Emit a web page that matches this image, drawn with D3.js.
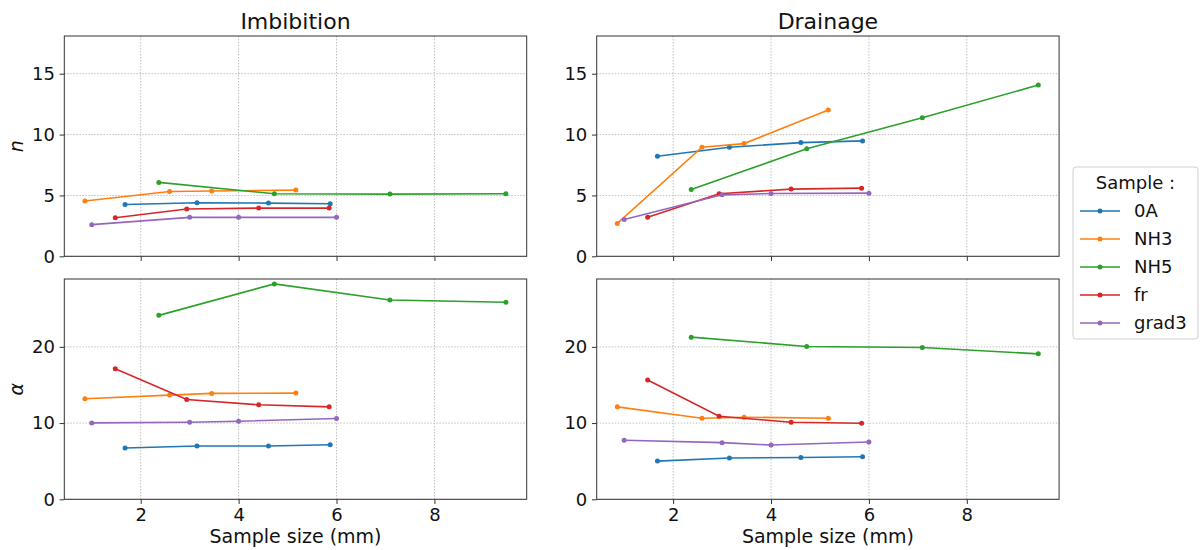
<!DOCTYPE html>
<html>
<head>
<meta charset="utf-8">
<script src="https://cdn.jsdelivr.net/npm/d3@7"></script>
<style>
  body { margin: 0; background: #fff; }
  svg { font-family: "DejaVu Sans", sans-serif; }
  .grid line { stroke: #b0b0b0; stroke-width: 0.8; stroke-dasharray: 1.5,1.5; }
</style>
</head>
<body>
<svg id="chart" width="1200" height="550"></svg>
<script>
// samples and their colours
var samples = ['0A', 'NH3', 'NH5', 'fr', 'grad3'];
var colors  = ['#1f77b4', '#ff7f0e', '#2ca02c', '#d62728', '#9467bd'];

// sample sizes (mm) per sample
var size_0A    = [1.68, 3.15, 4.61, 5.87];
var size_NH3   = [0.86, 2.59, 3.45, 5.17];
var size_NH5   = [2.37, 4.73, 7.09, 9.46];
var size_fr    = [1.48, 2.94, 4.41, 5.85];
var size_grad3 = [1.00, 3.00, 4.00, 6.00];

// n, imbibition
var nImb_0A    = [4.26, 4.40, 4.37, 4.32];
var nImb_NH3   = [4.54, 5.33, 5.36, 5.44];
var nImb_NH5   = [6.07, 5.14, 5.11, 5.14];
var nImb_fr    = [3.17, 3.88, 3.96, 3.96];
var nImb_grad3 = [2.60, 3.20, 3.20, 3.20];

// n, drainage
var nDrn_0A    = [8.22, 8.96, 9.34, 9.48];
var nDrn_NH3   = [2.70, 8.96, 9.26, 12.02];
var nDrn_NH5   = [5.49, 8.83, 11.39, 14.07];
var nDrn_fr    = [3.20, 5.14, 5.52, 5.60];
var nDrn_grad3 = [3.03, 5.05, 5.16, 5.19];

// alpha, imbibition
var aImb_0A    = [6.73, 6.99, 6.99, 7.16];
var aImb_NH3   = [13.19, 13.67, 13.89, 13.93];
var aImb_NH5   = [24.13, 28.26, 26.15, 25.85];
var aImb_fr    = [17.14, 13.10, 12.40, 12.13];
var aImb_grad3 = [10.02, 10.11, 10.24, 10.59];

// alpha, drainage
var aDrn_0A    = [5.01, 5.41, 5.49, 5.58];
var aDrn_NH3   = [12.13, 10.64, 10.77, 10.64];
var aDrn_NH5   = [21.27, 20.04, 19.91, 19.08];
var aDrn_fr    = [15.65, 10.90, 10.11, 9.98];
var aDrn_grad3 = [7.74, 7.43, 7.12, 7.52];

var xTicks  = [2, 4, 6, 8];
var nTicks  = [0, 5, 10, 15];
var aTicks  = [0, 10, 20];

var sizes = [size_0A, size_NH3, size_NH5, size_fr, size_grad3];

var panels = [
    { title: 'Imbibition', ylabel: 'n', col: 0, row: 0, ymax: 18.1, ticks: nTicks,
      series: [nImb_0A, nImb_NH3, nImb_NH5, nImb_fr, nImb_grad3] },
    { title: 'Drainage', ylabel: null, col: 1, row: 0, ymax: 18.1, ticks: nTicks,
      series: [nDrn_0A, nDrn_NH3, nDrn_NH5, nDrn_fr, nDrn_grad3] },
    { title: null, ylabel: '\u03b1', col: 0, row: 1, ymax: 28.9, ticks: aTicks,
      series: [aImb_0A, aImb_NH3, aImb_NH5, aImb_fr, aImb_grad3] },
    { title: null, ylabel: null, col: 1, row: 1, ymax: 28.9, ticks: aTicks,
      series: [aDrn_0A, aDrn_NH3, aDrn_NH5, aDrn_fr, aDrn_grad3] }
];

var colX = [64.3, 596.7];
var rowY = [36, 279];
var pw = 462.4, ph = 220.3;

var svg = d3.select('#chart');

panels.forEach(function(p) {
    var g = svg.append('g')
        .attr('transform', 'translate(' + colX[p.col] + ',' + rowY[p.row] + ')');

    var x = d3.scaleLinear().domain([0.439, 9.885]).range([0, pw]);
    var y = d3.scaleLinear().domain([0, p.ymax]).range([ph, 0]);

    /* grid */
    var grid = g.append('g').attr('class', 'grid');
    grid.selectAll('.gx').data(xTicks).enter().append('line')
        .attr('x1', function(d) { return x(d); }).attr('x2', function(d) { return x(d); })
        .attr('y1', 0).attr('y2', ph);
    grid.selectAll('.gy').data(p.ticks).enter().append('line')
        .attr('y1', function(d) { return y(d); }).attr('y2', function(d) { return y(d); })
        .attr('x1', 0).attr('x2', pw);

    /* lines + markers */
    var line = d3.line()
        .x(function(d) { return x(d[0]); })
        .y(function(d) { return y(d[1]); });

    p.series.forEach(function(vals, i) {
        var pts = vals.map(function(v, j) { return [sizes[i][j], v]; });
        g.append('path')
            .datum(pts)
            .attr('d', line)
            .attr('fill', 'none')
            .attr('stroke', colors[i])
            .attr('stroke-width', 1.6);
        g.selectAll('.m' + i).data(pts).enter().append('circle')
            .attr('cx', function(d) { return x(d[0]); })
            .attr('cy', function(d) { return y(d[1]); })
            .attr('r', 2.5)
            .attr('fill', colors[i]);
    });

    /* axes */
    var xAxis = d3.axisBottom(x).tickValues(xTicks).tickSize(4.7).tickPadding(4.7);
    if (p.row === 0) xAxis.tickFormat('');
    var gx = g.append('g').attr('transform', 'translate(0,' + ph + ')').call(xAxis);
    var gy = g.append('g').call(d3.axisLeft(y).tickValues(p.ticks).tickSize(4.7).tickPadding(4.7));
    [gx, gy].forEach(function(a) {
        a.select('.domain').remove();
        a.selectAll('line').attr('stroke', '#333').attr('stroke-width', 1);
        a.selectAll('text').attr('font-size', '18px').attr('fill', '#111')
            .attr('font-family', '"DejaVu Sans", sans-serif');
    });

    g.append('rect')
        .attr('width', pw).attr('height', ph)
        .attr('fill', 'none').attr('stroke', '#333').attr('stroke-width', 1);

    if (p.title) {
        g.append('text')
            .attr('x', pw / 2).attr('y', -7)
            .attr('text-anchor', 'middle')
            .attr('font-size', '22px').attr('fill', '#111')
            .text(p.title);
    }
    if (p.ylabel) {
        g.append('text')
            .attr('transform', 'translate(-41,' + (ph / 2) + ') rotate(-90)')
            .attr('text-anchor', 'middle')
            .attr('font-size', '19px').attr('font-style', 'italic').attr('fill', '#111')
            .text(p.ylabel);
    }
    if (p.row === 1) {
        g.append('text')
            .attr('x', pw / 2).attr('y', ph + 44)
            .attr('text-anchor', 'middle')
            .attr('font-size', '19px').attr('fill', '#111')
            .text('Sample size (mm)');
    }
});

/* legend */
var leg = svg.append('g').attr('transform', 'translate(1073,167)');
leg.append('rect')
    .attr('width', 125).attr('height', 172).attr('rx', 3)
    .attr('fill', '#fff').attr('stroke', '#d0d0d0').attr('stroke-width', 1);
leg.append('text')
    .attr('x', 62.5).attr('y', 22)
    .attr('text-anchor', 'middle')
    .attr('font-size', '18px').attr('fill', '#111')
    .text('Sample :');
var items = leg.selectAll('.item').data(samples).enter().append('g')
    .attr('transform', function(d, i) { return 'translate(0,' + (44 + i * 28) + ')'; });
items.append('line')
    .attr('x1', 7).attr('x2', 47)
    .attr('stroke', function(d, i) { return colors[i]; })
    .attr('stroke-width', 1.6);
items.append('circle')
    .attr('cx', 27).attr('r', 2.5)
    .attr('fill', function(d, i) { return colors[i]; });
items.append('text')
    .attr('x', 61).attr('dy', '0.35em')
    .attr('font-size', '18px').attr('fill', '#111')
    .text(function(d) { return d; });
</script>
</body>
</html>
